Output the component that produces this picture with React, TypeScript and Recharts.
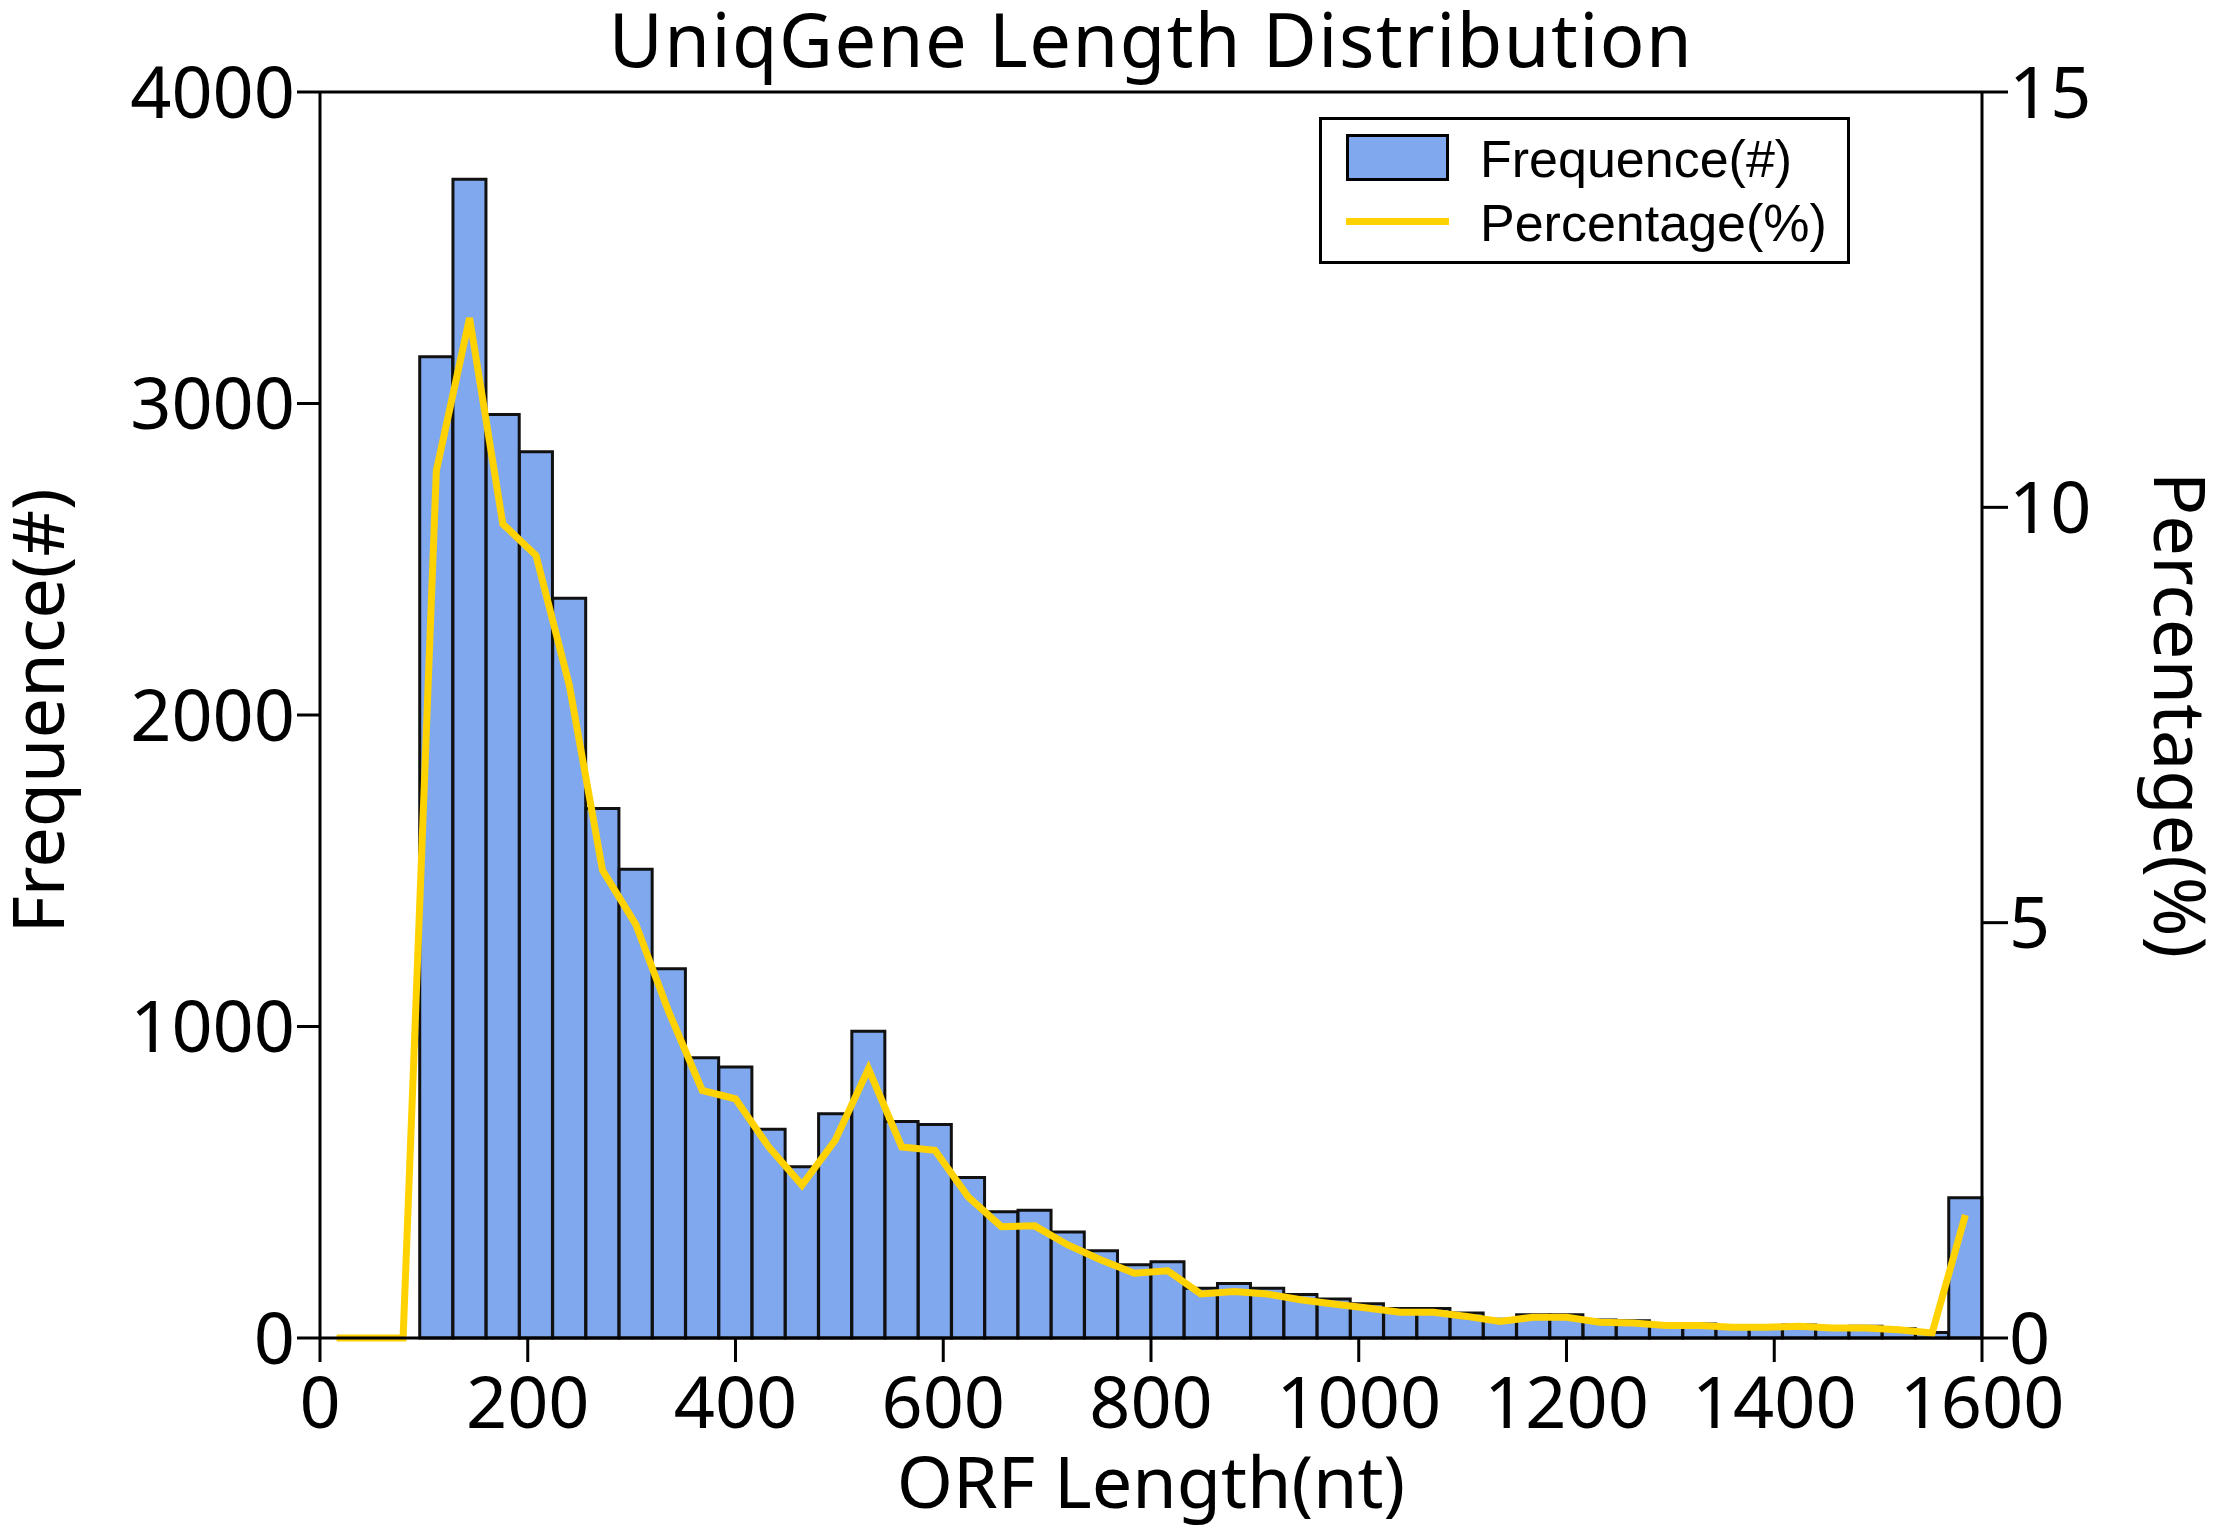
import React from 'react';
import {
  ComposedChart,
  Bar,
  Line,
  XAxis,
  YAxis,
  Legend,
  Label,
  ReferenceLine,
} from 'recharts';

// bin centres of the ORF length histogram (nt)
const binMids = [
  16, 48, 80, 112, 144, 176, 208, 240, 272, 304,
  336, 368, 400, 432, 464, 496, 528, 560, 592, 624,
  656, 688, 720, 752, 784, 816, 848, 880, 912, 944,
  976, 1008, 1040, 1072, 1104, 1136, 1168, 1200, 1232, 1264,
  1296, 1328, 1360, 1392, 1424, 1456, 1488, 1520, 1552, 1584,
];

// number of unigenes per bin
const frequence = [
  0, 0, 0, 3150, 3720, 2965, 2845, 2375, 1700, 1505,
  1185, 900, 870, 670, 550, 720, 985, 695, 685, 515,
  405, 410, 340, 280, 235, 245, 160, 175, 160, 140,
  125, 110, 95, 95, 80, 60, 75, 75, 58, 55,
  45, 45, 40, 38, 42, 35, 38, 30, 18, 450,
];

// share of all unigenes per bin (%)
const percentage = [
  0, 0, 0, 10.44, 12.28, 9.8, 9.42, 7.86, 5.63, 4.98,
  3.92, 2.98, 2.88, 2.3, 1.84, 2.38, 3.24, 2.3, 2.26, 1.7,
  1.34, 1.35, 1.12, 0.94, 0.78, 0.81, 0.53, 0.56, 0.53, 0.46,
  0.41, 0.36, 0.31, 0.31, 0.26, 0.2, 0.25, 0.25, 0.19, 0.18,
  0.15, 0.15, 0.13, 0.13, 0.14, 0.12, 0.12, 0.1, 0.06, 1.48,
];

const xTicks = [0, 200, 400, 600, 800, 1000, 1200, 1400, 1600];
const leftTicks = [0, 1000, 2000, 3000, 4000];
const rightTicks = [0, 5, 10, 15];

const data = binMids.map((mid, i) => ({
  mid,
  frequence: frequence[i],
  percentage: percentage[i],
}));

const BAR_FILL = '#80A8EE';
const LINE_COLOR = '#FFD200';
const FONT = '"Noto Sans", "Open Sans", sans-serif';
const tickStyle = { fill: '#000', fontSize: 72, fontFamily: FONT };
const axisStroke = { stroke: '#000', strokeWidth: 3 };

const YLeftTitle = (props: any) => {
  const vb = props.viewBox || { x: 0, y: 92, width: 320, height: 1246 };
  const x = vb.x + 64;
  const y = vb.y + vb.height / 2 - 4;
  return (
    <text x={x} y={y} transform={`rotate(-90 ${x} ${y})`} textAnchor="middle" fontSize={72} fontFamily={FONT} fill="#000">
      Frequence(#)
    </text>
  );
};

const YRightTitle = (props: any) => {
  const vb = props.viewBox || { x: 1982, y: 92, width: 235, height: 1246 };
  const x = vb.x + 172;
  const y = vb.y + vb.height / 2;
  return (
    <text x={x} y={y} transform={`rotate(90 ${x} ${y})`} textAnchor="middle" fontSize={72} fontFamily={FONT} fill="#000">
      Percentage(%)
    </text>
  );
};

const XTitle = (props: any) => {
  const vb = props.viewBox || { x: 320, y: 1338, width: 1662, height: 195 };
  return (
    <text x={vb.x + vb.width / 2} y={vb.y + 170} textAnchor="middle" fontSize={72} fontFamily={FONT} fill="#000">
      ORF Length(nt)
    </text>
  );
};

const renderLegend = () => (
  <div
    style={{
      width: 531,
      height: 147,
      boxSizing: 'border-box',
      border: '3px solid #000',
      background: '#fff',
      position: 'relative',
      fontFamily: '"Liberation Sans", Arial, sans-serif',
      fontSize: 52,
      color: '#000',
    }}
  >
    <div
      style={{
        position: 'absolute',
        left: 24,
        top: 14,
        width: 103,
        height: 47,
        boxSizing: 'border-box',
        background: BAR_FILL,
        border: '3px solid #000',
      }}
    />
    <span style={{ position: 'absolute', left: 158, top: 13, lineHeight: '52px', whiteSpace: 'nowrap' }}>
      Frequence(#)
    </span>
    <div
      style={{
        position: 'absolute',
        left: 24,
        top: 98,
        width: 103,
        height: 7,
        background: LINE_COLOR,
      }}
    />
    <span style={{ position: 'absolute', left: 158, top: 77, lineHeight: '52px', whiteSpace: 'nowrap' }}>
      Percentage(%)
    </span>
  </div>
);

export default function App() {
  return (
    <div style={{ position: 'absolute', left: 0, top: 0, width: 2217, height: 1533, background: '#fff', fontFamily: FONT }}>
      <div
        style={{
          position: 'absolute',
          left: 320,
          width: 1662,
          top: 2,
          textAlign: 'center',
          fontSize: 74,
          lineHeight: '74px',
          letterSpacing: 1.5,
          fontFamily: FONT,
          color: '#000',
          whiteSpace: 'nowrap',
        }}
      >
        UniqGene Length Distribution
      </div>
      <ComposedChart
        width={2217}
        height={1533}
        data={data}
        margin={{ top: 92, right: 0, bottom: 0, left: 0 }}
      >
        <XAxis
          dataKey="mid"
          type="number"
          domain={[0, 1600]}
          ticks={xTicks}
          interval={0}
          height={195}
          tick={tickStyle}
          tickSize={24}
          tickMargin={15}
          axisLine={axisStroke}
          tickLine={axisStroke}
        >
          <Label content={XTitle} />
        </XAxis>
        <YAxis
          yAxisId="left"
          orientation="left"
          domain={[0, 4000]}
          ticks={leftTicks}
          interval={0}
          width={320}
          tick={tickStyle}
          tickSize={23}
          tickMargin={2}
          axisLine={axisStroke}
          tickLine={axisStroke}
        >
          <Label content={YLeftTitle} />
        </YAxis>
        <YAxis
          yAxisId="right"
          orientation="right"
          domain={[0, 15]}
          ticks={rightTicks}
          interval={0}
          width={235}
          tick={tickStyle}
          tickSize={26}
          tickMargin={1}
          axisLine={axisStroke}
          tickLine={axisStroke}
        >
          <Label content={YRightTitle} />
        </YAxis>
        <ReferenceLine yAxisId="left" y={4000} stroke="#000" strokeWidth={3} />
        <Legend
          layout="vertical"
          align="center"
          verticalAlign="middle"
          content={renderLegend}
          wrapperStyle={{ left: 1319, top: 117, width: 531, height: 147 }}
        />
        <Bar
          yAxisId="left"
          dataKey="frequence"
          name="Frequence(#)"
          barSize={33}
          fill={BAR_FILL}
          stroke="#111"
          strokeWidth={3}
          isAnimationActive={false}
        />
        <Line
          yAxisId="right"
          dataKey="percentage"
          name="Percentage(%)"
          type="linear"
          stroke={LINE_COLOR}
          strokeWidth={7}
          dot={false}
          activeDot={false}
          isAnimationActive={false}
        />
      </ComposedChart>
    </div>
  );
}
